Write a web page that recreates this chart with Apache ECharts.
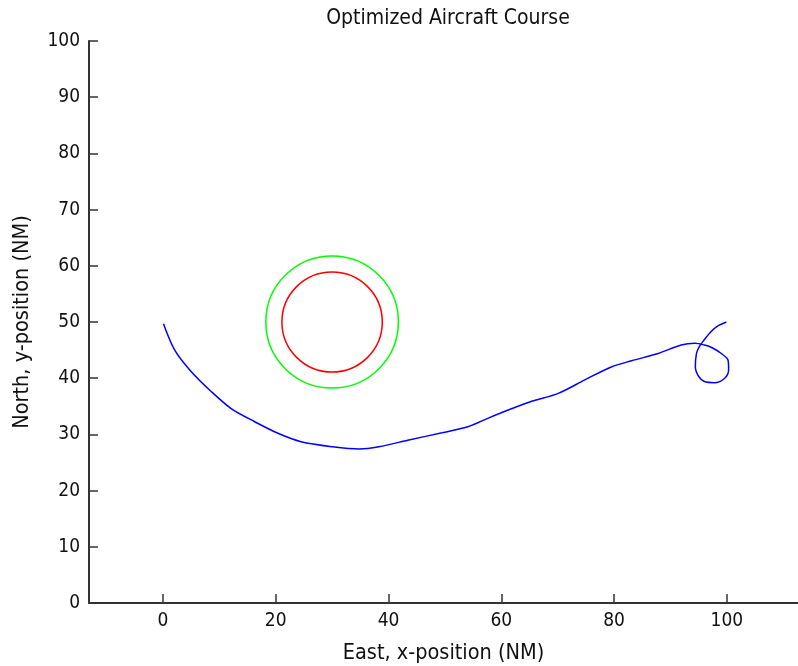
<!DOCTYPE html>
<html>
<head>
<meta charset="utf-8">
<script src="https://cdn.jsdelivr.net/npm/echarts@6/dist/echarts.min.js"></script>
<style>
  html, body { margin: 0; padding: 0; background: #fff; }
  #main { width: 798px; height: 666px; }
</style>
</head>
<body>
<div id="main"></div>
<script>
// aircraft course, east (x) / north (y) in NM
var courseX = [0.1, 2.1, 5.0, 8.6, 12.1, 16.2, 20.4, 24.5, 30.1, 34.8, 38.3, 43.6, 49.5, 54.2, 57.7,
               61.9, 65.4, 70.1, 74.8, 79.5, 83.1, 87.8, 91.9, 94.3, 96.0, 97.2, 99.0, 100.2,
               100.3, 99.6, 97.8, 96.0, 95.0, 94.4, 94.6, 95.1, 95.8, 97.2, 98.4, 99.9];
var courseY = [49.7, 45.0, 41.2, 37.6, 34.6, 32.3, 30.2, 28.7, 27.8, 27.4, 27.8, 29.0, 30.3, 31.4, 32.9,
               34.6, 35.9, 37.3, 39.7, 42.0, 43.1, 44.4, 45.9, 46.2, 45.9, 45.5, 44.4, 43.2,
               41.5, 40.0, 39.2, 39.4, 40.3, 42.0, 44.4, 45.6, 46.6, 48.3, 49.3, 50.0];

// threat zone: centre and radii (NM)
var zoneCenter = [30, 50];
var zoneRadii = [8.9, 11.75];
var zoneColors = ['#ff0000', '#00ff00'];

var xTicks = [0, 20, 40, 60, 80, 100];
var yTicks = [0, 10, 20, 30, 40, 50, 60, 70, 80, 90, 100];

var font = '"Liberation Sans Narrow", "DejaVu Sans Condensed", Arial, sans-serif';

var chart = echarts.init(document.getElementById('main'));

var coursePts = courseX.map(function (x, i) { return [x, courseY[i]]; });
var zonePts = zoneRadii.map(function (r, i) { return [zoneCenter[0], zoneCenter[1], r, i]; });

var option = {
	animation: false,
	title: {
		text: 'Optimized Aircraft Course',
		left: 443,
		textAlign: 'center',
		top: 3,
		textStyle: { fontFamily: font, fontSize: 21, fontWeight: 'normal', color: '#111' }
	},
	grid: { left: 89, top: 41, right: 0, bottom: 63, containLabel: false, outerBoundsMode: 'none' },
	xAxis: {
		type: 'value',
		min: -13.1,
		max: 112.6,
		name: 'East, x-position (NM)',
		nameLocation: 'middle',
		nameGap: 39,
		nameTextStyle: { fontFamily: font, fontSize: 21.5, color: '#111' },
		axisLine: { show: true, onZero: false, lineStyle: { color: '#333', width: 2 } },
		axisTick: { show: true, inside: true, length: 9, customValues: xTicks, lineStyle: { color: '#333', width: 1.5 } },
		axisLabel: { customValues: xTicks, fontFamily: font, fontSize: 19, color: '#111', margin: 9 },
		splitLine: { show: false }
	},
	yAxis: {
		type: 'value',
		min: 0,
		max: 100,
		interval: 10,
		name: 'North, y-position (NM)',
		nameLocation: 'middle',
		nameGap: 56,
		nameTextStyle: { fontFamily: font, fontSize: 21.5, color: '#111' },
		axisLine: { show: true, onZero: false, lineStyle: { color: '#333', width: 2 } },
		axisTick: { show: true, inside: true, length: 9, customValues: yTicks, lineStyle: { color: '#333', width: 1.5 } },
		axisLabel: { customValues: yTicks, fontFamily: font, fontSize: 19, color: '#111', margin: 9 },
		splitLine: { show: false }
	},
	series: [
		{
			type: 'custom',
			data: zonePts,
			renderItem: function (params, api) {
				var c = api.coord([api.value(0), api.value(1)]);
				var r = api.size([api.value(2), api.value(2)]);
				return {
					type: 'ellipse',
					shape: { cx: c[0], cy: c[1], rx: r[0], ry: r[1] },
					style: { fill: null, stroke: zoneColors[api.value(3)], lineWidth: 1.5 }
				};
			}
		},
		{
			type: 'line',
			data: coursePts,
			showSymbol: false,
			smooth: 0.3,
			lineStyle: { color: '#0000ff', width: 1.5 }
		}
	]
};

chart.setOption(option);
</script>
</body>
</html>
